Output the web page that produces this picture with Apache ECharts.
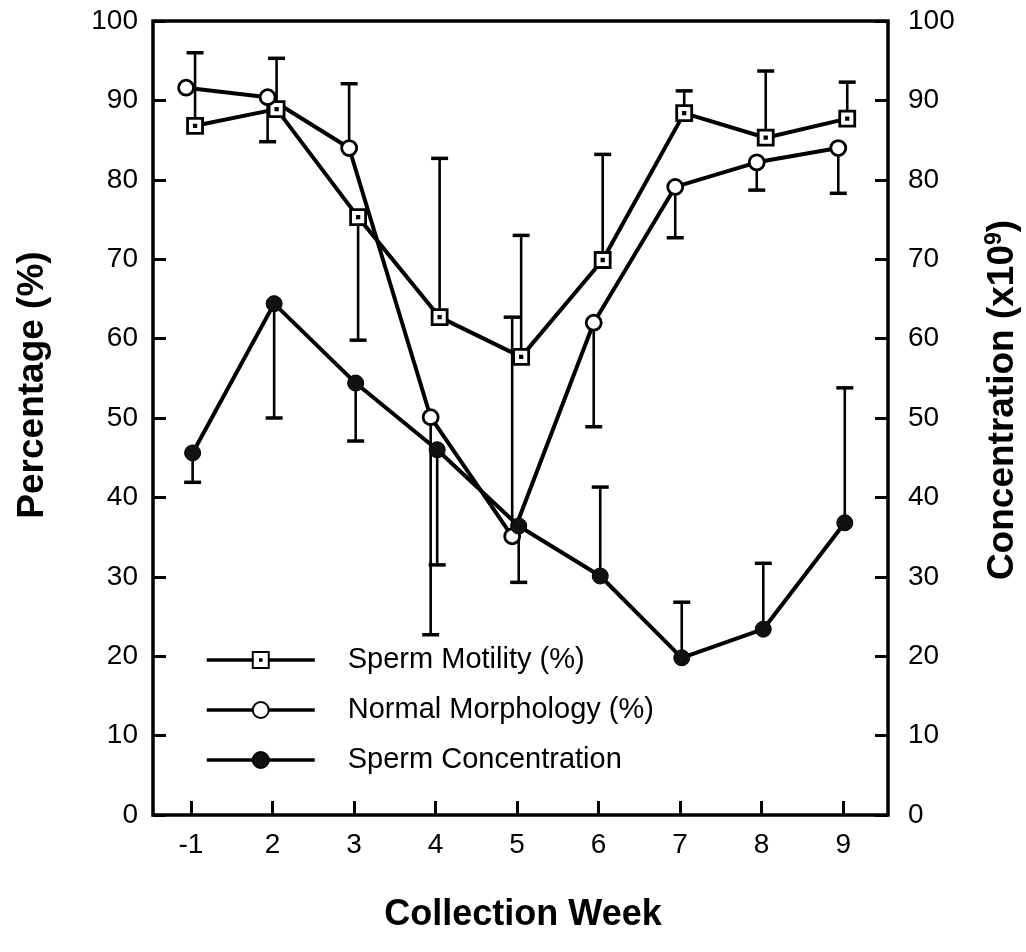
<!DOCTYPE html>
<html>
<head>
<meta charset="utf-8">
<title>Collection Week</title>
<script src="https://cdn.jsdelivr.net/npm/echarts@6/dist/echarts.min.js"></script>
<style>
    html, body { margin: 0; padding: 0; background: #fff; }
    #chart { width: 1026px; height: 952px; }
</style>
</head>
<body>
<div id="chart"></div>
<script>
// categories (collection week)
var weeks = ['-1', '2', '3', '4', '5', '6', '7', '8', '9'];

// series means
var motility      = [86.8, 88.9, 75.3, 62.7, 57.7, 69.9, 88.4, 85.3, 87.7];
var morphology    = [91.6, 90.4, 84.0, 50.1, 35.1, 62.0, 79.1, 82.2, 84.0];
var concentration = [45.6, 64.4, 54.4, 46.0, 36.4, 30.1, 19.8, 23.4, 36.8];

// one-sided error bars: value where each bar ends
var motilityEnd      = [96.0, 95.3, 59.8, 82.7, 73.0, 83.2, 91.2, 93.7, 92.3];
var morphologyEnd    = [null, 84.8, 92.1, 22.7, 62.7, 48.9, 72.7, 78.7, 78.3];
var concentrationEnd = [41.9, 50.0, 47.1, 31.5, 29.3, 41.3, 26.8, 31.7, 53.8];

var FONT = '"Liberation Sans", Arial, Helvetica, sans-serif';
var squareDot = 'path://M0,0H20V20H0Z M9,9H11V11H9Z';

function pts(vals, shift) {
    return vals.map(function (v, i) { return [i + shift, v]; });
}
function bars(vals, ends, shift) {
    var out = [];
    vals.forEach(function (v, i) {
        if (ends[i] != null) out.push([i + shift, v, ends[i]]);
    });
    return out;
}
// error bar = stem from the mean + cap at the end
function errorBar(params, api) {
    var x = api.value(0);
    var p0 = api.coord([x, api.value(1)]);
    var p1 = api.coord([x, api.value(2)]);
    var half = 8.5;
    return {
        type: 'group',
        children: [
            { type: 'line', shape: { x1: p0[0], y1: p0[1], x2: p1[0], y2: p1[1] },
              style: { stroke: '#000', lineWidth: 2.6 } },
            { type: 'line', shape: { x1: p1[0] - half, y1: p1[1], x2: p1[0] + half, y2: p1[1] },
              style: { stroke: '#000', lineWidth: 3.5 } }
        ]
    };
}

var idx = weeks.map(function (w, i) { return i; });

var option = {
    animation: false,
    backgroundColor: '#fff',
    grid: {
        left: 153, right: 138, top: 21, bottom: 137,
        show: true, borderColor: '#000', borderWidth: 3.5, backgroundColor: 'transparent'
    },
    xAxis: {
        type: 'value',
        min: -0.466,
        max: 8.55,
        axisLine: { show: false, onZero: false },
        splitLine: { show: false },
        axisTick: { inside: true, length: 14, customValues: idx, lineStyle: { color: '#000', width: 3 } },
        axisLabel: {
            customValues: idx,
            margin: 16,
            color: '#000',
            fontFamily: FONT,
            fontSize: 28,
            formatter: function (v) { return weeks[Math.round(v)]; }
        }
    },
    yAxis: [{
        type: 'value', min: 0, max: 100, interval: 10,
        axisLine: { show: false, onZero: false },
        splitLine: { show: false },
        axisTick: { inside: true, length: 13, lineStyle: { color: '#000', width: 3 } },
        axisLabel: { margin: 15, color: '#000', fontFamily: FONT, fontSize: 28 }
    }, {
        type: 'value', min: 0, max: 100, interval: 10, position: 'right',
        axisLine: { show: false, onZero: false },
        splitLine: { show: false },
        axisTick: { inside: true, length: 13, lineStyle: { color: '#000', width: 3 } },
        axisLabel: { margin: 20, color: '#000', fontFamily: FONT, fontSize: 28 }
    }],
    legend: {
        orient: 'vertical',
        left: 200,
        top: 640,
        itemWidth: 108,
        itemHeight: 20,
        itemGap: 20,
        lineStyle: { width: 3.5 },
        textStyle: { fontFamily: FONT, fontSize: 29, color: '#000', lineHeight: 30, padding: [0, 0, 0, 28] },
        data: ['Sperm Motility (%)', 'Normal Morphology (%)', 'Sperm Concentration']
    },
    graphic: [{
        type: 'text', x: 33, y: 385, rotation: Math.PI / 2,
        style: { text: 'Percentage (%)', font: 'bold 37px ' + FONT, fill: '#000',
                 textAlign: 'center', textVerticalAlign: 'middle' }
    }, {
        type: 'text', x: 1003, y: 400, rotation: Math.PI / 2,
        style: {
            text: '{a|Concentration (x10}{s|9}{a|)}',
            textAlign: 'center', textVerticalAlign: 'middle',
            rich: {
                a: { font: 'bold 37px ' + FONT, fill: '#000', lineHeight: 40 },
                s: { font: 'bold 23px ' + FONT, fill: '#000', verticalAlign: 'top', lineHeight: 40, padding: [0, 0, 14, 0] }
            }
        }
    }, {
        type: 'text', x: 523, y: 915,
        style: { text: 'Collection Week', font: 'bold 36px ' + FONT, fill: '#000',
                 textAlign: 'center', textVerticalAlign: 'middle' }
    }],
    series: [
        // error bars first so markers sit on top
        { type: 'custom', renderItem: errorBar, data: bars(motility, motilityEnd, 0.05),
          encode: { x: 0, y: [1, 2] }, z: 1 },
        { type: 'custom', renderItem: errorBar, data: bars(morphology, morphologyEnd, -0.06),
          encode: { x: 0, y: [1, 2] }, z: 1 },
        { type: 'custom', renderItem: errorBar, data: bars(concentration, concentrationEnd, 0.02),
          encode: { x: 0, y: [1, 2] }, yAxisIndex: 1, z: 1 },
        {
            name: 'Sperm Motility (%)', type: 'line', data: pts(motility, 0.05), z: 3,
            symbol: squareDot, symbolSize: 15,
            itemStyle: { color: '#fff', borderColor: '#000', borderWidth: 2.8 },
            lineStyle: { color: '#000', width: 4 }
        },
        {
            name: 'Normal Morphology (%)', type: 'line', data: pts(morphology, -0.06), z: 3,
            symbol: 'circle', symbolSize: 15,
            itemStyle: { color: '#fff', borderColor: '#000', borderWidth: 2.8 },
            lineStyle: { color: '#000', width: 4 }
        },
        {
            name: 'Sperm Concentration', type: 'line', data: pts(concentration, 0.02), yAxisIndex: 1, z: 3,
            symbol: 'circle', symbolSize: 16,
            itemStyle: { color: '#111', borderColor: '#000', borderWidth: 1 },
            lineStyle: { color: '#000', width: 4 }
        }
    ]
};

var myChart = echarts.init(document.getElementById('chart'));
myChart.setOption(option);
window.onresize = function () { myChart.resize(); };
</script>
</body>
</html>
